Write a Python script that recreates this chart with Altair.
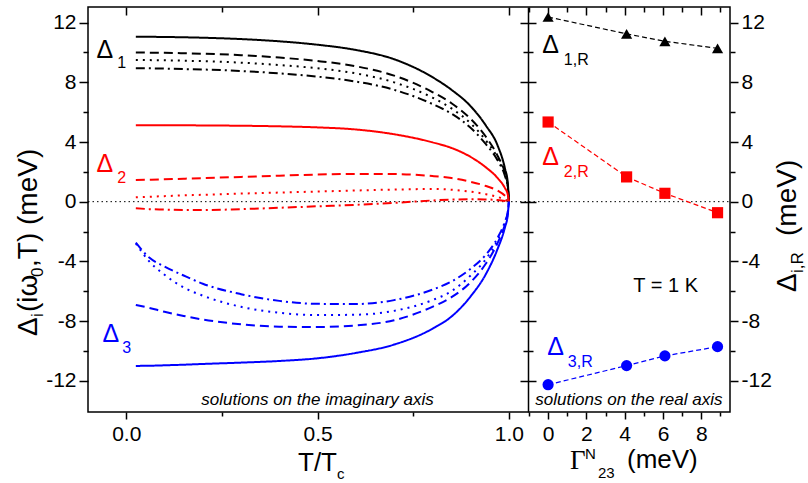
import altair as alt
import pandas as pd

# ---------------- data ----------------
T = [0.025, 0.06, 0.1, 0.15, 0.2, 0.3, 0.4, 0.5, 0.6, 0.7, 0.8, 0.85, 0.9, 0.94, 0.97, 0.99, 0.997, 1.0]

D1_SOLID = [11.05, 11.05, 11.04, 11.02, 10.99, 10.9, 10.75, 10.52, 10.17, 9.55, 8.35, 7.5, 6.4, 5.1, 3.8, 2.2, 1.3, 0.0]
D1_DASH = [10.0, 9.99, 9.98, 9.95, 9.92, 9.82, 9.66, 9.43, 9.08, 8.45, 7.35, 6.6, 5.55, 4.35, 3.1, 1.9, 1.1, 0.0]
D1_DOT = [9.5, 9.49, 9.48, 9.45, 9.42, 9.32, 9.16, 8.94, 8.6, 8.0, 6.98, 6.25, 5.25, 4.1, 2.95, 1.8, 1.05, 0.0]
D1_DASHDOT = [8.95, 8.94, 8.92, 8.89, 8.86, 8.76, 8.6, 8.38, 8.05, 7.5, 6.55, 5.9, 4.95, 3.85, 2.8, 1.7, 1.0, 0.0]
D2_SOLID = [5.12, 5.12, 5.12, 5.12, 5.11, 5.09, 5.05, 4.98, 4.84, 4.52, 3.98, 3.6, 3.0, 2.3, 1.6, 0.9, 0.5, 0.0]
D2_DASH = [1.45, 1.47, 1.5, 1.54, 1.58, 1.66, 1.74, 1.82, 1.86, 1.85, 1.72, 1.58, 1.33, 1.05, 0.75, 0.4, 0.2, 0.0]
D2_DOT = [0.29, 0.33, 0.37, 0.42, 0.46, 0.54, 0.61, 0.68, 0.75, 0.81, 0.85, 0.8, 0.67, 0.5, 0.32, 0.13, 0.05, 0.0]
D2_DASHDOT = [-0.44, -0.5, -0.53, -0.56, -0.56, -0.5, -0.41, -0.31, -0.21, -0.08, 0.08, 0.14, 0.16, 0.15, 0.11, 0.05, 0.02, 0.0]
D3_SOLID = [-11.01, -11.0, -10.97, -10.93, -10.88, -10.79, -10.68, -10.5, -10.14, -9.58, -8.52, -7.7, -6.35, -4.85, -3.2, -1.7, -0.9, 0.0]
D3_DASH = [-6.92, -7.12, -7.38, -7.66, -7.9, -8.22, -8.38, -8.4, -8.3, -7.95, -7.05, -6.4, -5.4, -4.15, -2.8, -1.5, -0.8, 0.0]
D3_DOT = [-2.8, -4.0, -4.9, -5.75, -6.3, -7.05, -7.45, -7.6, -7.58, -7.32, -6.6, -6.0, -4.95, -3.85, -2.6, -1.4, -0.75, 0.0]
D3_DASHDOT = [-2.75, -3.75, -4.35, -4.95, -5.5, -6.2, -6.65, -6.85, -6.86, -6.6, -5.9, -5.35, -4.5, -3.55, -2.45, -1.3, -0.7, 0.0]

G23 = [0.0, 4.1, 6.1, 8.85]
D1R = [12.38, 11.25, 10.75, 10.28]
D2R = [5.34, 1.66, 0.56, -0.74]
D3R = [-12.27, -10.99, -10.34, -9.72]

Y_MAJOR = [-12, -8, -4, 0, 4, 8, 12]
Y_MINOR = [-10, -6, -2, 2, 6, 10]
XL_MAJOR = [0.0, 0.5, 1.0]
XL_MINOR = [0.25, 0.75]
XR_MAJOR = [0, 2, 4, 6, 8]
XR_MINOR = [-1, 1, 3, 5, 7, 9]

# ---------------- tables ----------------
curve_defs = [
    ("d1s", D1_SOLID, "k", "solid"), ("d1d", D1_DASH, "k", "dash"),
    ("d1o", D1_DOT, "k", "dot"), ("d1dd", D1_DASHDOT, "k", "dashdot"),
    ("d2s", D2_SOLID, "r", "solid"), ("d2d", D2_DASH, "r", "dash"),
    ("d2o", D2_DOT, "r", "dot"), ("d2dd", D2_DASHDOT, "r", "dashdot"),
    ("d3s", D3_SOLID, "b", "solid"), ("d3d", D3_DASH, "b", "dash"),
    ("d3o", D3_DOT, "b", "dot"), ("d3dd", D3_DASHDOT, "b", "dashdot"),
]
rows = []
for name, vals, col, sty in curve_defs:
    for t, v in zip(T, vals):
        rows.append({"t": t, "v": v, "series": name, "col": col, "sty": sty})
curves = pd.DataFrame(rows)

rrows = []
for vals, col, shp in [(D1R, "k", "triangle-up"), (D2R, "r", "square"), (D3R, "b", "circle")]:
    for g, v in zip(G23, vals):
        rrows.append({"g": g, "v": v, "col": col, "shp": shp})
right = pd.DataFrame(rrows)

COL = alt.Scale(domain=["k", "r", "b"], range=["#000000", "#ff0000", "#0000ff"])
DASH = alt.Scale(domain=["solid", "dash", "dot", "dashdot"],
                 range=[[1, 0], [9, 5], [2, 5], [9, 4, 2, 4]])

W, H, WL = 642, 405, 440
XL = alt.Scale(domain=[-0.1, 1.05], range=[0, WL], nice=False, zero=False)
XR = alt.Scale(domain=[-1.05, 9.5], range=[WL, W], nice=False, zero=False)
YS = alt.Scale(domain=[-14.1, 13.05], nice=False, zero=False)
FONT = "Liberation Sans"


def ax(orient, values, size, offset=0, domain=False, labels=False, **kw):
    return alt.Axis(orient=orient, values=values, tickSize=size, offset=offset,
                    domain=domain, labels=labels, grid=False, title=None,
                    tickColor="black", tickWidth=1.5, domainColor="black",
                    domainWidth=1.5, labelFont=FONT, labelFontSize=21,
                    labelColor="black", labelFlush=False, labelOverlap=False, **kw)


# left panel curves (bottom major + left major axes)
lines = alt.Chart(curves).mark_line(strokeWidth=2, interpolate="monotone").encode(
    x=alt.X("t:Q", scale=XL, axis=ax("bottom", XL_MAJOR, 7, labels=True, labelPadding=4, format=".1f")),
    y=alt.Y("v:Q", scale=YS, axis=ax("left", Y_MAJOR, 9, labels=True, labelPadding=3,
                                        labelExpr="'' + datum.value")),
    color=alt.Color("col:N", scale=COL, legend=None),
    strokeDash=alt.StrokeDash("sty:N", scale=DASH, legend=None),
    detail="series:N",
)


def dummy_left(xaxis, yaxis):
    return alt.Chart(curves).mark_point(opacity=0).encode(
        x=alt.X("t:Q", scale=XL, axis=xaxis), y=alt.Y("v:Q", scale=YS, axis=yaxis))


def dummy_right(xaxis, yaxis):
    return alt.Chart(right).mark_point(opacity=0).encode(
        x=alt.X("g:Q", scale=XR, axis=xaxis), y=alt.Y("v:Q", scale=YS, axis=yaxis))


l2 = dummy_left(ax("top", XL_MAJOR, 8, offset=-8), ax("left", Y_MINOR, 5))
l3 = dummy_left(ax("bottom", XL_MINOR, 4), ax("left", Y_MAJOR, 8, offset=-WL, domain=True))
l4 = dummy_left(ax("top", XL_MINOR, 5, offset=-5), ax("left", Y_MINOR, 5, offset=-WL))

# right panel
rlines = alt.Chart(right).mark_line(strokeWidth=1.2, strokeDash=[5, 3]).encode(
    x=alt.X("g:Q", scale=XR, axis=ax("bottom", XR_MAJOR, 7, labels=True, labelPadding=4)),
    y=alt.Y("v:Q", scale=YS, axis=ax("right", Y_MAJOR, 8, labels=True, labelPadding=3,
                                        labelExpr="'' + datum.value")),
    color=alt.Color("col:N", scale=COL, legend=None),
    detail="col:N",
)
rpoints = alt.Chart(right).mark_point(filled=True, opacity=1, size=125).encode(
    x=alt.X("g:Q", scale=XR, axis=ax("top", XR_MAJOR, 8, offset=-8)),
    y=alt.Y("v:Q", scale=YS, axis=ax("right", Y_MINOR, 5)),
    color=alt.Color("col:N", scale=COL, legend=None),
    shape=alt.Shape("shp:N", scale=None),
)
r3 = dummy_right(ax("bottom", XR_MINOR, 4), ax("right", Y_MAJOR, 8, offset=-(W - WL)))
r4 = dummy_right(ax("top", XR_MINOR, 5, offset=-5), ax("right", Y_MINOR, 5, offset=-(W - WL)))

# zero line across both panels
zero = alt.Chart(pd.DataFrame({"v": [0]})).mark_rule(
    color="black", strokeWidth=1, strokeDash=[1.5, 3]).encode(
    y=alt.Y("v:Q", scale=YS, axis=None), x=alt.value(0), x2=alt.value(W))

# in-plot labels
ann_left = pd.DataFrame({
    "x": [-0.078, -0.0235, -0.078, -0.0235, -0.062, -0.0104],
    "y": [9.63, 8.96, 1.99, 1.25, -9.4, -10.14],
    "text": ["Δ", "1", "Δ", "2", "Δ", "3"],
    "c": ["#000000", "#000000", "#ff0000", "#ff0000", "#0000ff", "#0000ff"],
    "fs": [25, 16, 25, 16, 25, 16],
})
ann_right = pd.DataFrame({
    "x": [-0.3, 0.82, -0.3, 0.82, -0.04, 1.03, 4.45],
    "y": [9.97, 9.16, 2.46, 1.66, -10.27, -11.08, -6.05],
    "text": ["Δ", "1,R", "Δ", "2,R", "Δ", "3,R", "T = 1 K"],
    "c": ["#000000", "#000000", "#ff0000", "#ff0000", "#0000ff", "#0000ff", "#000000"],
    "fs": [25, 16, 25, 16, 25, 16, 20],
})
tl = alt.Chart(ann_left).mark_text(align="left", baseline="alphabetic", font=FONT).encode(
    x=alt.X("x:Q", scale=XL, axis=None), y=alt.Y("y:Q", scale=YS, axis=None),
    text="text:N", color=alt.Color("c:N", scale=None), size=alt.Size("fs:Q", scale=None))
tr = alt.Chart(ann_right).mark_text(align="left", baseline="alphabetic", font=FONT).encode(
    x=alt.X("x:Q", scale=XR, axis=None), y=alt.Y("y:Q", scale=YS, axis=None),
    text="text:N", color=alt.Color("c:N", scale=None), size=alt.Size("fs:Q", scale=None))

sol_l = alt.Chart(pd.DataFrame({"x": [0.5], "y": [-13.6], "text": ["solutions on the imaginary axis"]})).mark_text(
    align="center", baseline="alphabetic", font=FONT, fontStyle="italic", fontSize=17, color="black").encode(
    x=alt.X("x:Q", scale=XL, axis=None), y=alt.Y("y:Q", scale=YS, axis=None), text="text:N")
sol_r = alt.Chart(pd.DataFrame({"x": [4.22], "y": [-13.6], "text": ["solutions on the real axis"]})).mark_text(
    align="center", baseline="alphabetic", font=FONT, fontStyle="italic", fontSize=17, color="black").encode(
    x=alt.X("x:Q", scale=XR, axis=None), y=alt.Y("y:Q", scale=YS, axis=None), text="text:N")

# axis titles as text pieces (pixel positions relative to plot area)
titles_h = pd.DataFrame({
    "px": [210, 249, 497, 510, 539],
    "py": [464, 472, 452, 471, 461],
    "text": ["T/T", "c", "N", "23", "(meV)"],
    "fs": [26, 15, 15, 15, 26],
})
th = alt.Chart(titles_h).mark_text(align="left", baseline="alphabetic", font=FONT, color="black").encode(
    x=alt.X("px:Q", scale=None), y=alt.Y("py:Q", scale=None), text="text:N",
    size=alt.Size("fs:Q", scale=None))
gamma = alt.Chart(pd.DataFrame({"px": [482], "py": [462], "text": ["Γ"]})).mark_text(
    align="left", baseline="alphabetic", font="Liberation Serif", fontSize=27, color="black").encode(
    x=alt.X("px:Q", scale=None), y=alt.Y("py:Q", scale=None), text="text:N")

titles_v = pd.DataFrame({
    "px": [-51, -45, -51, -45, -51, 708, 715, 708],
    "py": [329, 310, 305, 270, 260, 285, 266, 229],
    "text": ["Δ", "i", "(iω", "0", ",T)  (meV)", "Δ", "i,R", "(meV)"],
    "fs": [28, 17, 28, 17, 28, 28, 17, 28],
})
tv = alt.Chart(titles_v).mark_text(align="left", baseline="alphabetic", font=FONT, angle=270, color="black").encode(
    x=alt.X("px:Q", scale=None), y=alt.Y("py:Q", scale=None), text="text:N",
    size=alt.Size("fs:Q", scale=None))

chart = alt.layer(
    zero, lines, l2, l3, l4, rlines, rpoints, r3, r4, tl, tr, sol_l, sol_r, th, gamma, tv
).resolve_scale(x="independent", y="independent").resolve_axis(
    x="independent", y="independent"
).properties(
    width=W, height=H,
    autosize=alt.AutoSizeParams(type="none"),
    padding={"left": 88, "top": 7, "right": 78, "bottom": 71},
    background="white",
).configure_view(stroke="black", strokeWidth=1.5)

chart.save("out.html", embed_options={"renderer": "svg", "actions": False})
